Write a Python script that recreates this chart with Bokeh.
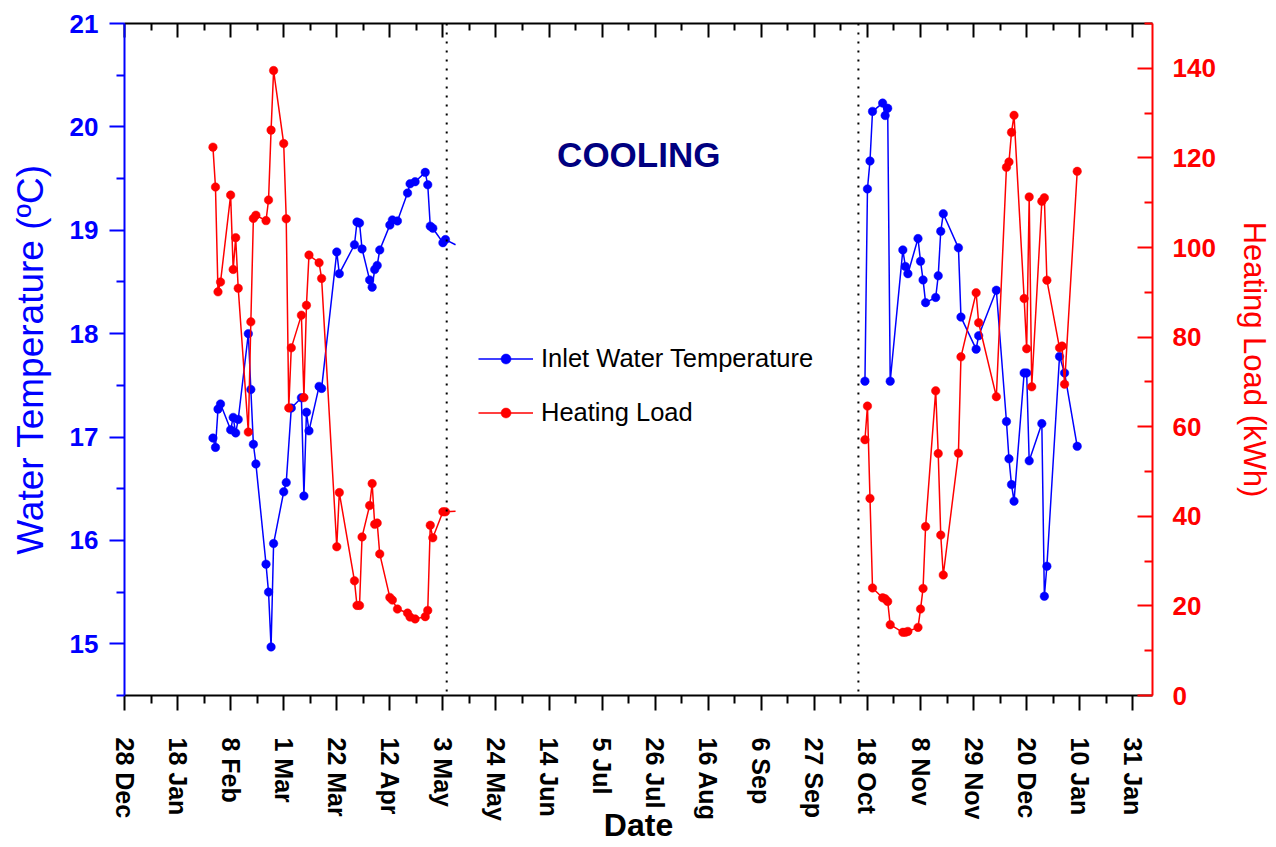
import numpy as np
import pandas as pd
from bokeh.plotting import figure
from bokeh.models import (LinearAxis, Range1d, FixedTicker, Span, Legend,
                          LegendItem, Label)
from bokeh.embed import file_html
from bokeh.resources import INLINE

ORIGIN = pd.Timestamp("2005-12-28")

# ---------------- data ----------------
tick_dates = ["2005-12-28", "2006-01-18", "2006-02-08", "2006-03-01", "2006-03-22",
              "2006-04-12", "2006-05-03", "2006-05-24", "2006-06-14", "2006-07-05",
              "2006-07-26", "2006-08-16", "2006-09-06", "2006-09-27", "2006-10-18",
              "2006-11-08", "2006-11-29", "2006-12-20", "2007-01-10", "2007-01-31"]
tick_labels = ["28 Dec", "18 Jan", "8 Feb", "1 Mar", "22 Mar", "12 Apr", "3 May",
               "24 May", "14 Jun", "5 Jul", "26 Jul", "16 Aug", "6 Sep", "27 Sep",
               "18 Oct", "8 Nov", "29 Nov", "20 Dec", "10 Jan", "31 Jan"]

temp_spring_dates = ["2006-02-01", "2006-02-02", "2006-02-03", "2006-02-04", "2006-02-08",
                     "2006-02-09", "2006-02-10", "2006-02-11", "2006-02-15", "2006-02-16",
                     "2006-02-17", "2006-02-18", "2006-02-22", "2006-02-23", "2006-02-24",
                     "2006-02-25", "2006-03-01", "2006-03-02", "2006-03-04", "2006-03-08",
                     "2006-03-09", "2006-03-10", "2006-03-11", "2006-03-15", "2006-03-16",
                     "2006-03-22", "2006-03-23", "2006-03-29", "2006-03-30", "2006-03-31",
                     "2006-04-01", "2006-04-04", "2006-04-05", "2006-04-06", "2006-04-07",
                     "2006-04-08", "2006-04-12", "2006-04-13", "2006-04-15", "2006-04-19",
                     "2006-04-20", "2006-04-22", "2006-04-26", "2006-04-27", "2006-04-28",
                     "2006-04-29", "2006-05-03", "2006-05-04"]
temp_spring_values = [16.99, 16.90, 17.27, 17.32, 17.07, 17.19, 17.04, 17.17, 18.00, 17.46,
                      16.93, 16.74, 15.77, 15.50, 14.97, 15.97, 16.47, 16.56, 17.28, 17.38,
                      16.43, 17.24, 17.06, 17.49, 17.47, 18.79, 18.58, 18.86, 19.08, 19.07,
                      18.82, 18.52, 18.45, 18.62, 18.66, 18.81, 19.05, 19.10, 19.09, 19.36,
                      19.45, 19.47, 19.56, 19.44, 19.04, 19.02, 18.88, 18.91]
temp_tail_date = "2006-05-08"
temp_tail_value = 18.86

temp_autumn_dates = ["2006-10-17", "2006-10-18", "2006-10-19", "2006-10-20", "2006-10-24",
                     "2006-10-25", "2006-10-26", "2006-10-27", "2006-11-01", "2006-11-02",
                     "2006-11-03", "2006-11-07", "2006-11-08", "2006-11-09", "2006-11-10",
                     "2006-11-14", "2006-11-15", "2006-11-16", "2006-11-17", "2006-11-23",
                     "2006-11-24", "2006-11-30", "2006-12-01", "2006-12-08", "2006-12-12",
                     "2006-12-13", "2006-12-14", "2006-12-15", "2006-12-19", "2006-12-20",
                     "2006-12-21", "2006-12-26", "2006-12-27", "2006-12-28", "2007-01-02",
                     "2007-01-04", "2007-01-09"]
temp_autumn_values = [17.54, 19.40, 19.67, 20.15, 20.23, 20.11, 20.18, 17.54, 18.81, 18.65,
                      18.58, 18.92, 18.70, 18.52, 18.30, 18.35, 18.56, 18.99, 19.16, 18.83,
                      18.16, 17.85, 17.98, 18.42, 17.15, 16.79, 16.54, 16.38, 17.62, 17.62,
                      16.77, 17.13, 15.46, 15.75, 17.78, 17.62, 16.91]

load_spring_dates = ["2006-02-01", "2006-02-02", "2006-02-03", "2006-02-04", "2006-02-08",
                     "2006-02-09", "2006-02-10", "2006-02-11", "2006-02-15", "2006-02-16",
                     "2006-02-17", "2006-02-18", "2006-02-22", "2006-02-23", "2006-02-24",
                     "2006-02-25", "2006-03-01", "2006-03-02", "2006-03-03", "2006-03-04",
                     "2006-03-08", "2006-03-09", "2006-03-10", "2006-03-11", "2006-03-15",
                     "2006-03-16", "2006-03-22", "2006-03-23", "2006-03-29", "2006-03-30",
                     "2006-03-31", "2006-04-01", "2006-04-04", "2006-04-05", "2006-04-06",
                     "2006-04-07", "2006-04-08", "2006-04-12", "2006-04-13", "2006-04-15",
                     "2006-04-19", "2006-04-20", "2006-04-22", "2006-04-26", "2006-04-27",
                     "2006-04-28", "2006-04-29", "2006-05-03", "2006-05-04"]
load_spring_values = [122.4, 113.5, 90.1, 92.3, 111.7, 95.1, 102.2, 90.9, 58.8, 83.4,
                      106.5, 107.2, 106.0, 110.6, 126.2, 139.5, 123.2, 106.4, 64.2, 77.6,
                      84.9, 66.5, 87.1, 98.3, 96.6, 93.1, 33.2, 45.3, 25.6, 20.1,
                      20.1, 35.4, 42.4, 47.3, 38.2, 38.5, 31.6, 21.9, 21.3, 19.3,
                      18.4, 17.5, 17.1, 17.6, 19.0, 38.0, 35.2, 41.0, 41.0]
load_tail_date = "2006-05-08"
load_tail_value = 41.1

load_autumn_dates = ["2006-10-17", "2006-10-18", "2006-10-19", "2006-10-20", "2006-10-24",
                     "2006-10-25", "2006-10-26", "2006-10-27", "2006-11-01", "2006-11-02",
                     "2006-11-03", "2006-11-07", "2006-11-08", "2006-11-09", "2006-11-10",
                     "2006-11-14", "2006-11-15", "2006-11-16", "2006-11-17", "2006-11-23",
                     "2006-11-24", "2006-11-30", "2006-12-01", "2006-12-08", "2006-12-12",
                     "2006-12-13", "2006-12-14", "2006-12-15", "2006-12-19", "2006-12-20",
                     "2006-12-21", "2006-12-22", "2006-12-26", "2006-12-27", "2006-12-28",
                     "2007-01-02", "2007-01-03", "2007-01-04", "2007-01-09"]
load_autumn_values = [57.1, 64.6, 44.0, 24.0, 21.8, 21.6, 21.0, 15.8, 14.1, 14.1,
                      14.3, 15.2, 19.3, 23.9, 37.7, 68.0, 54.0, 35.8, 26.9, 54.1,
                      75.6, 89.9, 83.2, 66.7, 117.9, 119.1, 125.7, 129.5, 88.6, 77.4,
                      111.3, 68.9, 110.3, 111.1, 92.7, 77.6, 78.0, 69.5, 117.0]

season_marks = ["2006-05-04 12:00", "2006-10-14 10:00"]
season_text = "COOLING"
season_text_date = "2006-07-19 12:00"
season_text_temp = 19.73

x_end_date = "2007-02-07 19:00"

x_title = "Date"
left_title = "Water Temperature (ºC)"
right_title = "Heating Load (kWh)"


def days(d):
    return ((pd.to_datetime(pd.Series(d)) - ORIGIN) / pd.Timedelta(days=1)).to_numpy()


FONT = "Liberation Sans"
BLUE = "#0000FF"
RED = "#FF0000"

tick_days = days(tick_dates)
x_end = float(days([x_end_date])[0])

p = figure(width=1276, height=847, output_backend="svg", toolbar_location=None,
           x_range=Range1d(0, x_end), y_range=Range1d(14.5, 21),
           min_border_left=124, min_border_right=124, min_border_top=23,
           min_border_bottom=152)
p.extra_y_ranges = {"load": Range1d(0, 150)}
p.outline_line_color = None
p.xgrid.grid_line_color = None
p.ygrid.grid_line_color = None
p.background_fill_color = "white"
p.border_fill_color = "white"

minor_x = [float(t) + 10.5 for t in tick_days]

# bottom axis
xa = p.xaxis[0]
xa.ticker = FixedTicker(ticks=list(tick_days), minor_ticks=minor_x)
xa.major_label_overrides = {float(t): lab for t, lab in zip(tick_days, tick_labels)}
xa.major_label_orientation = "vertical"
xa.major_label_text_font = FONT
xa.major_label_text_font_style = "bold"
xa.major_label_text_font_size = "25px"
xa.major_label_text_color = "black"
xa.major_label_standoff = 27
xa.axis_label = x_title
xa.axis_label_text_font = FONT
xa.axis_label_text_font_style = "bold"
xa.axis_label_text_font_size = "32px"
xa.axis_label_text_color = "black"
xa.axis_label_standoff = -17
xa.axis_line_width = 2
xa.major_tick_line_width = 2
xa.minor_tick_line_width = 2
xa.major_tick_out = 15
xa.major_tick_in = 0
xa.minor_tick_out = 8
xa.minor_tick_in = 0

# top frame line with inward ticks (no labels)
ta1 = LinearAxis(ticker=FixedTicker(ticks=[], minor_ticks=list(tick_days)),
                 major_label_standoff=0, axis_line_width=2, minor_tick_line_width=2,
                 major_tick_in=0, major_tick_out=0, minor_tick_in=14, minor_tick_out=0)
p.add_layout(ta1, "above")
ta2 = LinearAxis(ticker=FixedTicker(ticks=[], minor_ticks=minor_x),
                 major_label_standoff=0, axis_line_color=None, minor_tick_line_width=2,
                 major_tick_in=0, major_tick_out=0, minor_tick_in=7, minor_tick_out=0)
p.add_layout(ta2, "above")

# left axis
ya = p.yaxis[0]
ya.ticker = FixedTicker(ticks=[15, 16, 17, 18, 19, 20, 21],
                        minor_ticks=[14.5, 15.5, 16.5, 17.5, 18.5, 19.5, 20.5])
ya.axis_line_color = BLUE
ya.major_tick_line_color = BLUE
ya.minor_tick_line_color = BLUE
ya.axis_line_width = 2
ya.major_tick_line_width = 2
ya.minor_tick_line_width = 2
ya.major_tick_out = 15
ya.major_tick_in = 0
ya.minor_tick_out = 8
ya.minor_tick_in = 0
ya.major_label_text_font = FONT
ya.major_label_text_font_style = "bold"
ya.major_label_text_font_size = "26px"
ya.major_label_text_color = BLUE
ya.major_label_standoff = 11
ya.axis_label = left_title
ya.axis_label_text_font = FONT
ya.axis_label_text_font_style = "normal"
ya.axis_label_text_font_size = "37px"
ya.axis_label_text_color = BLUE
ya.axis_label_standoff = 16

# right axis
ra = LinearAxis(y_range_name="load",
                ticker=FixedTicker(ticks=[0, 20, 40, 60, 80, 100, 120, 140],
                                   minor_ticks=[10, 30, 50, 70, 90, 110, 130, 150]))
ra.axis_line_color = RED
ra.major_tick_line_color = RED
ra.minor_tick_line_color = RED
ra.axis_line_width = 2
ra.major_tick_line_width = 2
ra.minor_tick_line_width = 2
ra.major_tick_in = 15
ra.major_tick_out = 0
ra.minor_tick_in = 8
ra.minor_tick_out = 0
ra.major_label_text_font = FONT
ra.major_label_text_font_style = "bold"
ra.major_label_text_font_size = "26px"
ra.major_label_text_color = RED
ra.major_label_standoff = 20
ra.axis_label = right_title
ra.axis_label_text_font = FONT
ra.axis_label_text_font_style = "normal"
ra.axis_label_text_font_size = "31px"
ra.axis_label_text_color = RED
ra.axis_label_standoff = 18
p.add_layout(ra, "right")

# season boundaries
for m in days(season_marks):
    p.add_layout(Span(location=float(m), dimension="height", line_color="black",
                      line_width=2, line_dash="2 7"))

# series
t_sp = days(temp_spring_dates)
t_au = days(temp_autumn_dates)
t_tail = days([temp_tail_date])
l_sp = days(load_spring_dates)
l_au = days(load_autumn_dates)
l_tail = days([load_tail_date])

t_line_x = np.concatenate([t_sp, t_tail, [np.nan], t_au])
t_line_y = np.concatenate([temp_spring_values, [temp_tail_value], [np.nan], temp_autumn_values])
l_line_x = np.concatenate([l_sp, l_tail, [np.nan], l_au])
l_line_y = np.concatenate([load_spring_values, [load_tail_value], [np.nan], load_autumn_values])

tl = p.line(t_line_x, t_line_y, line_color=BLUE, line_width=1.5)
ts = p.scatter(np.concatenate([t_sp, t_au]),
               np.concatenate([temp_spring_values, temp_autumn_values]),
               marker="circle", size=8.5, fill_color=BLUE, line_color=BLUE, line_width=0.5)
ll = p.line(l_line_x, l_line_y, line_color=RED, line_width=1.5, y_range_name="load")
ls = p.scatter(np.concatenate([l_sp, l_au]),
               np.concatenate([load_spring_values, load_autumn_values]),
               marker="circle", size=8.5, fill_color=RED, line_color=RED, line_width=0.5,
               y_range_name="load")

legend = Legend(items=[LegendItem(label="Inlet Water Temperature", renderers=[tl, ts]),
                       LegendItem(label="Heating Load", renderers=[ll, ls])],
                location=(354, 268), border_line_color=None, background_fill_alpha=0,
                label_text_font=FONT, label_text_font_size="25.5px",
                label_text_color="black",
                glyph_width=55, glyph_height=25, label_height=25, spacing=25,
                padding=0, margin=0, label_standoff=8)
p.add_layout(legend)

p.add_layout(Label(x=float(days([season_text_date])[0]), y=season_text_temp, text=season_text,
                   text_align="center", text_baseline="middle", text_font=FONT,
                   text_font_style="bold", text_font_size="35px", text_color="#000080"))

open("out.html", "w").write(file_html(p, INLINE))
